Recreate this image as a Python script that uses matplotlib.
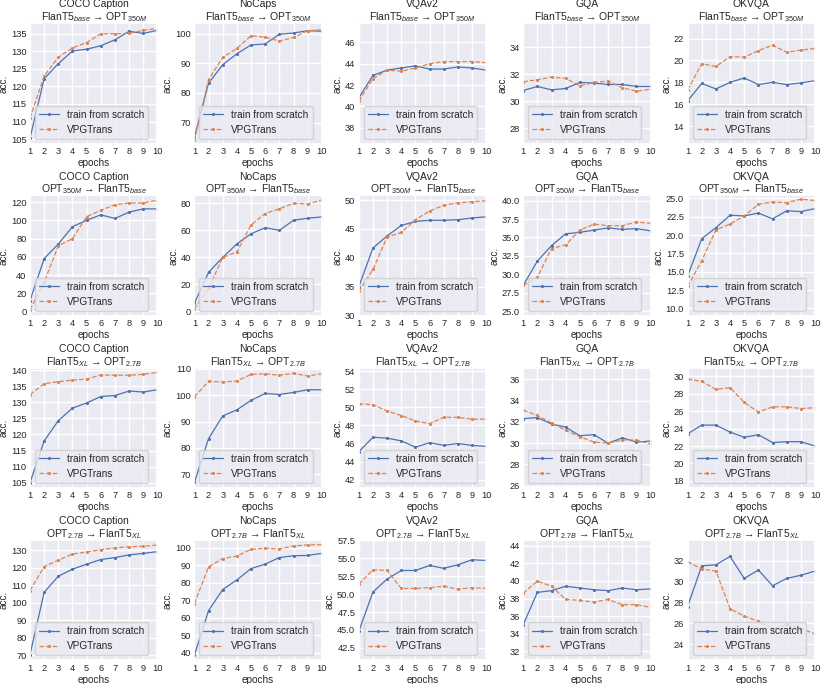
import numpy as np
import matplotlib.pyplot as plt
import seaborn as sns

sns.set_theme(style="darkgrid")
plt.rcParams['font.family'] = ['Liberation Sans', 'DejaVu Sans']
plt.rcParams['mathtext.fontset'] = 'custom'
plt.rcParams['mathtext.rm'] = 'Liberation Sans'
plt.rcParams['mathtext.it'] = 'Liberation Sans:italic'
plt.rcParams['mathtext.default'] = 'it'

epochs = np.arange(1, 11)
tasks = ["COCO Caption", "NoCaps", "VQAv2", "GQA", "OKVQA"]
transfers = [
    "FlanT5$_{base}$ → OPT$_{350M}$",
    "OPT$_{350M}$ → FlanT5$_{base}$",
    "FlanT5$_{XL}$ → OPT$_{2.7B}$",
    "OPT$_{2.7B}$ → FlanT5$_{XL}$",
]

# row 1: FlanT5base -> OPT350M
scratch_1 = [
    [105.3, 122.2, 126.5, 130.1, 130.6, 131.6, 133.3, 135.7, 135.1, 136.0],
    [65.0, 83.3, 89.5, 93.2, 96.2, 96.5, 99.8, 100.2, 101.0, 100.8],
    [40.8, 42.9, 43.4, 43.6, 43.8, 43.5, 43.5, 43.7, 43.6, 43.4],
    [30.8, 31.1, 30.85, 30.95, 31.4, 31.35, 31.25, 31.25, 31.1, 31.1],
    [16.3, 17.9, 17.4, 18.0, 18.4, 17.8, 18.0, 17.8, 17.95, 18.15],
]
vpg_1 = [
    [111.0, 123.0, 128.3, 131.0, 132.5, 135.0, 135.0, 135.1, 136.0, 136.5],
    [64.0, 84.5, 92.0, 95.0, 99.3, 98.8, 97.5, 98.7, 101.0, 101.3],
    [40.5, 42.6, 43.4, 43.3, 43.6, 44.0, 44.2, 44.2, 44.2, 44.1],
    [31.45, 31.6, 31.8, 31.7, 31.15, 31.4, 31.5, 31.0, 30.75, 30.9],
    [17.3, 19.7, 19.45, 20.35, 20.3, 20.9, 21.4, 20.75, 20.95, 21.1],
]
# row 2: OPT350M -> FlanT5base
scratch_2 = [
    [12.0, 58.0, 74.0, 93.0, 100.0, 106.0, 102.0, 109.0, 112.5, 112.5],
    [6.0, 29.0, 40.0, 50.0, 57.5, 62.0, 60.0, 67.5, 69.0, 70.0],
    [35.0, 41.7, 43.8, 45.6, 46.3, 46.5, 46.5, 46.6, 46.9, 47.1],
    [28.5, 31.8, 33.9, 35.5, 35.7, 36.0, 36.3, 36.1, 36.2, 35.9],
    [14.4, 19.5, 21.0, 22.7, 22.6, 23.0, 22.2, 23.3, 23.2, 23.6],
]
vpg_2 = [
    [2.0, 32.0, 72.0, 80.0, 104.0, 111.0, 117.0, 119.0, 119.0, 122.0],
    [2.0, 17.0, 40.0, 44.0, 64.0, 72.5, 76.0, 80.0, 79.5, 82.5],
    [34.2, 38.0, 43.6, 44.4, 46.6, 48.1, 49.1, 49.5, 49.7, 49.9],
    [28.5, 29.6, 33.5, 34.0, 36.0, 36.8, 36.6, 36.6, 37.1, 36.9],
    [13.0, 16.5, 20.7, 21.5, 22.6, 24.2, 24.5, 24.4, 24.9, 24.7],
]
# row 3: FlanT5XL -> OPT2.7B
scratch_3 = [
    [105.0, 118.0, 124.3, 128.2, 129.8, 131.8, 132.1, 133.5, 133.2, 133.9],
    [67.0, 83.5, 92.1, 94.4, 98.0, 100.6, 100.2, 101.0, 102.0, 102.0],
    [45.1, 46.7, 46.6, 46.3, 45.6, 46.1, 45.8, 46.0, 45.8, 45.7],
    [32.3, 32.4, 31.8, 31.5, 30.7, 30.8, 30.0, 30.5, 30.1, 30.2],
    [23.4, 24.4, 24.4, 23.6, 23.0, 23.3, 22.4, 22.5, 22.5, 22.0],
]
vpg_3 = [
    [132.4, 135.8, 136.4, 136.9, 137.2, 138.5, 138.4, 138.4, 138.7, 139.3],
    [99.3, 105.2, 104.9, 105.3, 107.8, 108.0, 107.5, 108.2, 107.2, 108.1],
    [50.4, 50.3, 49.6, 49.1, 48.5, 48.2, 48.9, 48.9, 48.7, 48.7],
    [33.1, 32.6, 31.9, 31.2, 30.6, 30.1, 30.0, 30.3, 30.3, 29.9],
    [29.7, 29.4, 28.5, 28.7, 27.0, 25.9, 26.5, 26.5, 26.3, 26.4],
]
# row 4: OPT2.7B -> FlanT5XL
scratch_4 = [
    [70.5, 106.0, 115.2, 119.2, 122.0, 124.7, 125.8, 127.3, 128.2, 129.2],
    [38.5, 64.0, 76.0, 81.5, 88.0, 90.5, 94.3, 95.3, 95.5, 96.7],
    [44.8, 50.3, 52.1, 53.3, 53.3, 54.0, 53.6, 54.1, 54.8, 54.7],
    [35.0, 38.7, 38.9, 39.4, 39.2, 39.0, 38.9, 39.2, 39.0, 39.1],
    [27.6, 31.5, 31.6, 32.4, 30.3, 31.1, 29.6, 30.3, 30.6, 31.0],
]
vpg_4 = [
    [107.0, 120.7, 124.3, 127.8, 129.0, 130.3, 131.3, 132.0, 132.2, 133.0],
    [68.0, 89.0, 93.7, 95.1, 99.0, 99.6, 99.2, 100.9, 101.5, 101.7],
    [51.4, 53.4, 53.3, 50.8, 50.8, 50.9, 51.1, 50.7, 50.9, 50.8],
    [38.6, 40.0, 39.4, 37.9, 37.8, 37.6, 37.9, 37.3, 37.3, 37.0],
    [31.9, 31.2, 31.0, 27.4, 26.7, 26.2, 25.5, 25.9, 25.5, 25.0],
]

ylims = [
    [(103.7, 138.0), (62.9, 103.5), (36.5, 47.8), (26.85, 35.8), (12.4, 23.4)],
    [(-4.7, 127.3), (-3.2, 85.9), (30.0, 50.8), (24.4, 40.7), (9.0, 25.4)],
    [(103.4, 140.8), (64.9, 110.4), (41.1, 54.4), (25.8, 37.1), (17.2, 31.0)],
    [(67.4, 136.0), (35.7, 104.5), (40.8, 57.6), (31.0, 44.7), (22.5, 34.0)],
]
yticks = [
    [(105, 135, 5), (70, 100, 10), (38, 46, 2), (28, 34, 2), (14, 22, 2)],
    [(0, 120, 20), (0, 80, 20), (30, 50, 5), (25, 40, 2.5), (10, 25, 2.5)],
    [(105, 140, 5), (70, 110, 10), (42, 54, 2), (26, 36, 2), (18, 30, 2)],
    [(70, 130, 10), (40, 100, 10), (42.5, 57.5, 2.5), (32, 44, 2), (24, 32, 2)],
]

scratch = [scratch_1, scratch_2, scratch_3, scratch_4]
vpg = [vpg_1, vpg_2, vpg_3, vpg_4]

fig, axes = plt.subplots(4, 5, figsize=(8.22, 6.84), dpi=100)
plt.subplots_adjust(left=0.0365, right=0.9915, top=0.966, bottom=0.035,
                    wspace=0.29, hspace=0.43)

for r in range(4):
    for c in range(5):
        ax = axes[r, c]
        ax.plot(epochs, scratch[r][c], '-', marker='.', markersize=2.5,
                linewidth=0.9, color='#4C72B0', label='train from scratch')
        ax.plot(epochs, vpg[r][c], '--', marker='.', markersize=2.5,
                linewidth=0.9, color='#DD8452', label='VPGTrans')
        ax.set_title(tasks[c] + "\n" + transfers[r], fontsize=7.5, pad=2,
                     linespacing=1.1)
        ax.set_xlim(1, 10)
        ax.set_xticks(epochs)
        lo, hi, st = yticks[r][c]
        ax.set_yticks(np.arange(lo, hi + st / 2, st))
        ax.set_ylim(*ylims[r][c])
        ax.tick_params(labelsize=6.7, length=0, pad=2.5)
        ax.set_xlabel('epochs', fontsize=7.2, labelpad=1.5)
        ax.set_ylabel('acc.', fontsize=7.2, labelpad=1.5)
        ax.legend(loc='lower left', fontsize=7.2, borderaxespad=0.5)

plt.savefig('out.png', dpi=100)
